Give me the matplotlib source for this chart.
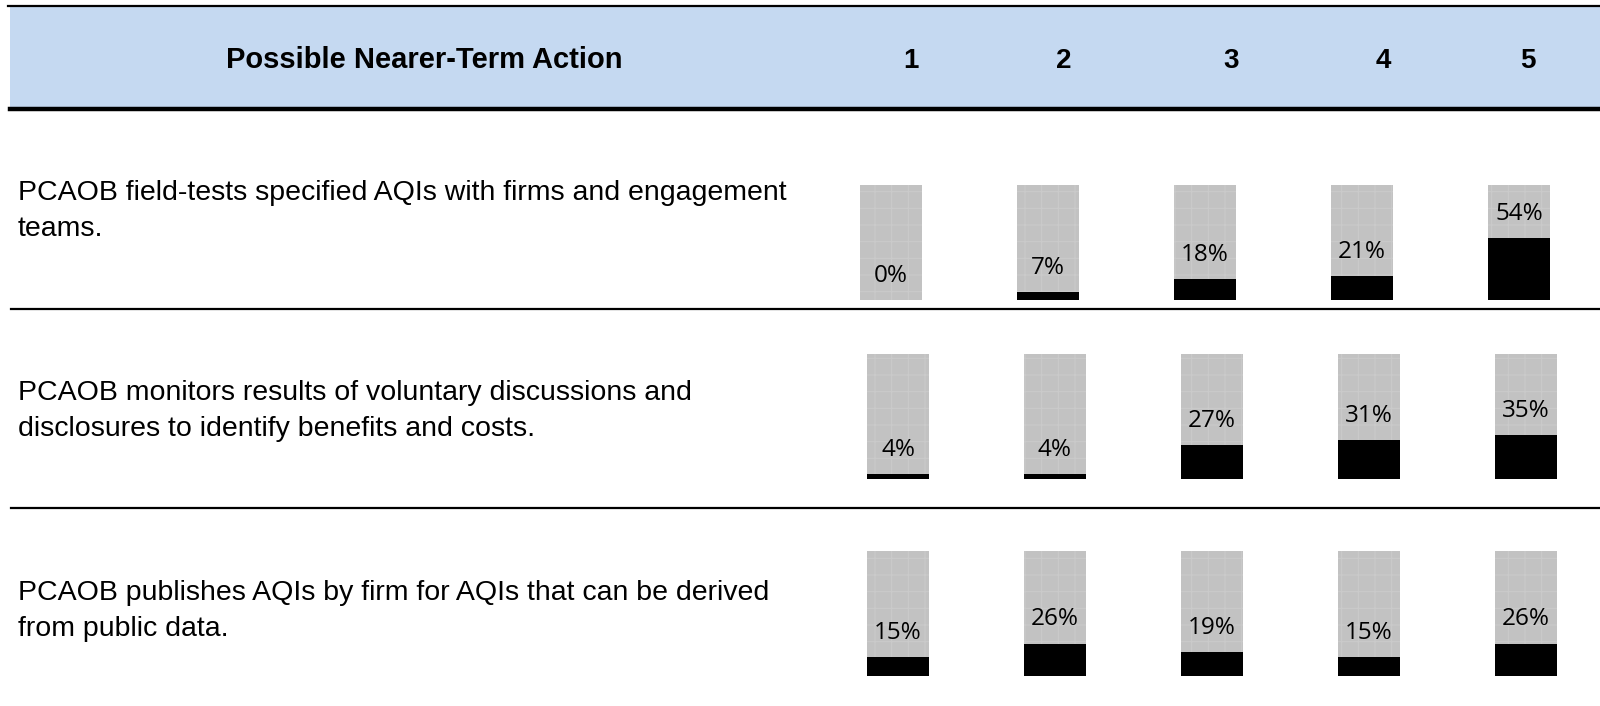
import numpy as np
import matplotlib.pyplot as plt

# survey results: share of responses per rating (1-5)
actions = [
    'PCAOB field-tests specified AQIs with firms and engagement\nteams.',
    'PCAOB monitors results of voluntary discussions and\ndisclosures to identify benefits and costs.',
    'PCAOB publishes AQIs by firm for AQIs that can be derived\nfrom public data.',
]
ratings = ['1', '2', '3', '4', '5']
field_tests = [0, 7, 18, 21, 54]
monitors = [4, 4, 27, 31, 35]
publishes = [15, 26, 19, 15, 26]
rows = [field_tests, monitors, publishes]

W, H = 1600, 706
fig = plt.figure(figsize=(W / 100, H / 100), dpi=100)
plt.rcParams['hatch.linewidth'] = 0.8

# background layer in pixel units for the table frame
bg = fig.add_axes([0, 0, 1, 1])
bg.set_xlim(0, W)
bg.set_ylim(H, 0)
bg.axis('off')
bg.axhspan(7, 107, xmin=10 / W, xmax=1, color='#c5d9f1', lw=0)
bg.plot([8, W], [6, 6], color='black', lw=1.6)
bg.plot([10, W], [109, 109], color='black', lw=3.2)
for y in [309, 508]:
    bg.plot([11, W], [y, y], color='black', lw=1.6)

bg.text(424, 60, 'Possible Nearer-Term Action', ha='center', va='center',
        fontsize=21, fontweight='bold', family='Liberation Sans')
head_x = [911, 1064, 1231, 1383, 1528]
for hx, r in zip(head_x, ratings):
    bg.text(hx, 61, r, ha='center', va='center', fontsize=20,
            fontweight='bold', family='Liberation Sans')

label_y = [211.5, 411.5, 611.5]
for ly, txt in zip(label_y, actions):
    bg.text(18, ly, txt, ha='left', va='center', fontsize=20.5,
            family='Liberation Sans', linespacing=1.5)

# one small axes per row of bars (pixel boxes: left centre, top, bottom)
boxes = [(891, 185, 300), (898, 354, 479), (898, 551, 676)]
step = 157
x = np.arange(len(ratings))
for (c0, top, bot), vals in zip(boxes, rows):
    left = c0 - step / 2
    ax = fig.add_axes([left / W, 1 - bot / H, 5 * step / W, (bot - top) / H])
    ax.bar(x, [100] * len(x), width=0.4, color='#c2c2c2', edgecolor='#cacaca',
           hatch='+', lw=0)
    ax.bar(x, vals, width=0.4, color='black', lw=0)
    for xi, v in zip(x, vals):
        ax.annotate(f'{v}%', (xi, v), xytext=(0, 13), textcoords='offset points',
                    ha='center', va='baseline', fontsize=17.5, family='Open Sans')
    ax.set_xlim(-0.5, 4.5)
    ax.set_ylim(0, 100)
    ax.axis('off')

fig.savefig('out.png', dpi=100)
